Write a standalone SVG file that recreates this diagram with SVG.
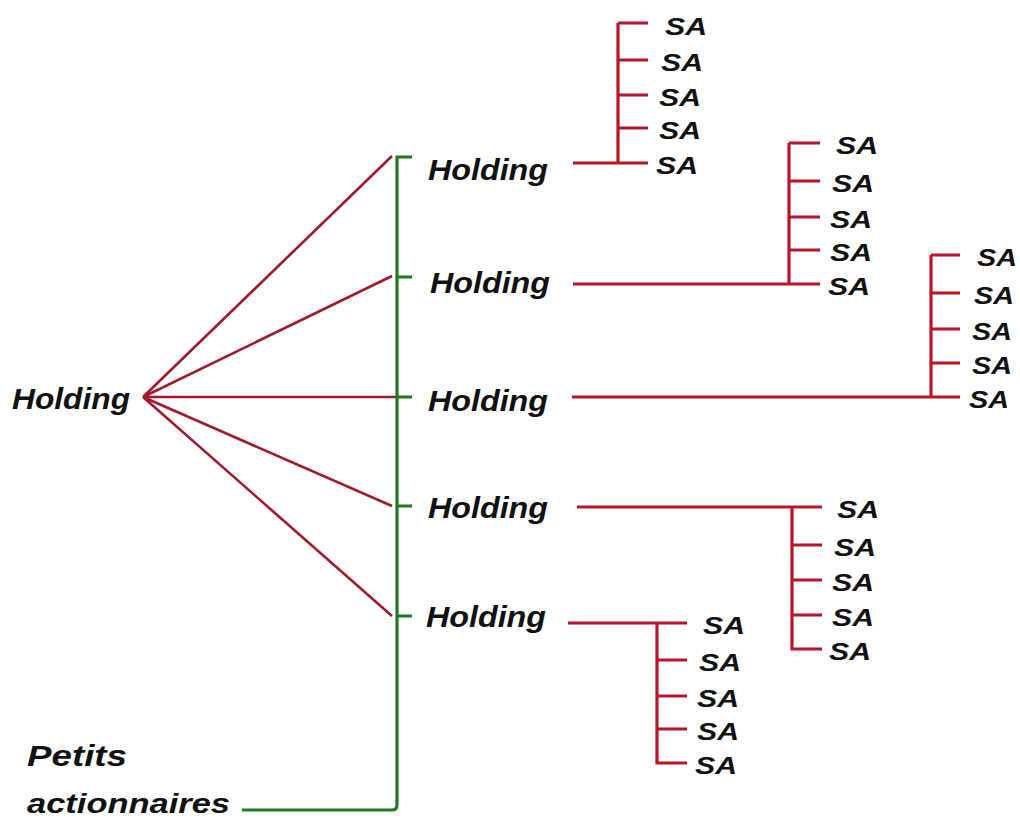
<svg xmlns="http://www.w3.org/2000/svg" width="1020" height="820" viewBox="0 0 1020 820">
<style>
.bg{fill:#ffffff}
.lbl{font-family:"Liberation Sans",Arial,sans-serif;font-weight:bold;font-style:italic;fill:#111111}
.hold{font-size:30px}
.sa{font-size:24px}
.red{stroke:#b8142a;stroke-width:3.2;fill:none;stroke-linecap:butt}
.fan{stroke:#a01a2c;stroke-width:2.6;fill:none}
.green{stroke:#1f7a22;stroke-width:3.2;fill:none}
</style>
<rect class="bg" x="0" y="0" width="1020" height="820"/>
<g id="connectors">
  <path class="fan" d="M143,397 L392,156 M143,397 L392,276 M143,397 L397,397 M143,397 L392,506 M143,397 L392,616"/>
  <path class="green" d="M412,157 L397,157 L397,805 Q397,810 392,810 L242,810 M397,277 L412,277 M397,397 L412,397 M397,506 L412,506 M397,616 L412,616"/>
  <path class="red" d="M573,163 L648,163 M618,163 L618,23 M618,23 L648,23 M618,60 L648,60 M618,95 L648,95 M618,128 L648,128"/>
  <path class="red" d="M573,284 L820,284 M789,284 L789,143 M789,143 L820,143 M789,181 L820,181 M789,217 L820,217 M789,250 L820,250"/>
  <path class="red" d="M572,397 L960,397 M931,397 L931,255 M931,255 L960,255 M931,293 L960,293 M931,329 L960,329 M931,363 L960,363"/>
  <path class="red" d="M577,507 L822,507 M792,507 L792,649 L822,649 M792,545 L822,545 M792,580 L822,580 M792,615 L822,615"/>
  <path class="red" d="M568,623 L687,623 M657,623 L657,763 L687,763 M657,660 L687,660 M657,696 L687,696 M657,729 L687,729"/>
</g>
<g id="holding-main"><text class="lbl hold" x="12" y="409" textLength="118" lengthAdjust="spacingAndGlyphs">Holding</text></g>
<g id="holding-1"><text class="lbl hold" x="428" y="180" textLength="120" lengthAdjust="spacingAndGlyphs">Holding</text></g>
<g id="holding-2"><text class="lbl hold" x="430" y="293" textLength="120" lengthAdjust="spacingAndGlyphs">Holding</text></g>
<g id="holding-3"><text class="lbl hold" x="428" y="411" textLength="120" lengthAdjust="spacingAndGlyphs">Holding</text></g>
<g id="holding-4"><text class="lbl hold" x="428" y="518" textLength="120" lengthAdjust="spacingAndGlyphs">Holding</text></g>
<g id="holding-5"><text class="lbl hold" x="426" y="627" textLength="120" lengthAdjust="spacingAndGlyphs">Holding</text></g>
<g id="petits-actionnaires">
  <text class="lbl hold" x="27" y="766" textLength="100" lengthAdjust="spacingAndGlyphs">Petits</text>
  <text class="lbl" style="font-size:28px" x="27" y="813" textLength="203" lengthAdjust="spacingAndGlyphs">actionnaires</text>
</g>
<g id="sa-group-1">
  <text class="lbl sa" x="665" y="35" textLength="42" lengthAdjust="spacingAndGlyphs">SA</text>
  <text class="lbl sa" x="661" y="71" textLength="42" lengthAdjust="spacingAndGlyphs">SA</text>
  <text class="lbl sa" x="659" y="106" textLength="42" lengthAdjust="spacingAndGlyphs">SA</text>
  <text class="lbl sa" x="659" y="139" textLength="42" lengthAdjust="spacingAndGlyphs">SA</text>
  <text class="lbl sa" x="656" y="174" textLength="42" lengthAdjust="spacingAndGlyphs">SA</text>
</g>
<g id="sa-group-2">
  <text class="lbl sa" x="836" y="154" textLength="42" lengthAdjust="spacingAndGlyphs">SA</text>
  <text class="lbl sa" x="832" y="192" textLength="42" lengthAdjust="spacingAndGlyphs">SA</text>
  <text class="lbl sa" x="830" y="228" textLength="42" lengthAdjust="spacingAndGlyphs">SA</text>
  <text class="lbl sa" x="830" y="261" textLength="42" lengthAdjust="spacingAndGlyphs">SA</text>
  <text class="lbl sa" x="828" y="295" textLength="42" lengthAdjust="spacingAndGlyphs">SA</text>
</g>
<g id="sa-group-3">
  <text class="lbl sa" x="977" y="266" textLength="40" lengthAdjust="spacingAndGlyphs">SA</text>
  <text class="lbl sa" x="974" y="304" textLength="40" lengthAdjust="spacingAndGlyphs">SA</text>
  <text class="lbl sa" x="972" y="340" textLength="40" lengthAdjust="spacingAndGlyphs">SA</text>
  <text class="lbl sa" x="972" y="374" textLength="40" lengthAdjust="spacingAndGlyphs">SA</text>
  <text class="lbl sa" x="969" y="408" textLength="40" lengthAdjust="spacingAndGlyphs">SA</text>
</g>
<g id="sa-group-4">
  <text class="lbl sa" x="837" y="518" textLength="42" lengthAdjust="spacingAndGlyphs">SA</text>
  <text class="lbl sa" x="834" y="556" textLength="42" lengthAdjust="spacingAndGlyphs">SA</text>
  <text class="lbl sa" x="832" y="591" textLength="42" lengthAdjust="spacingAndGlyphs">SA</text>
  <text class="lbl sa" x="832" y="626" textLength="42" lengthAdjust="spacingAndGlyphs">SA</text>
  <text class="lbl sa" x="829" y="660" textLength="42" lengthAdjust="spacingAndGlyphs">SA</text>
</g>
<g id="sa-group-5">
  <text class="lbl sa" x="703" y="634" textLength="42" lengthAdjust="spacingAndGlyphs">SA</text>
  <text class="lbl sa" x="699" y="671" textLength="42" lengthAdjust="spacingAndGlyphs">SA</text>
  <text class="lbl sa" x="697" y="707" textLength="42" lengthAdjust="spacingAndGlyphs">SA</text>
  <text class="lbl sa" x="697" y="740" textLength="42" lengthAdjust="spacingAndGlyphs">SA</text>
  <text class="lbl sa" x="695" y="774" textLength="42" lengthAdjust="spacingAndGlyphs">SA</text>
</g>
</svg>
